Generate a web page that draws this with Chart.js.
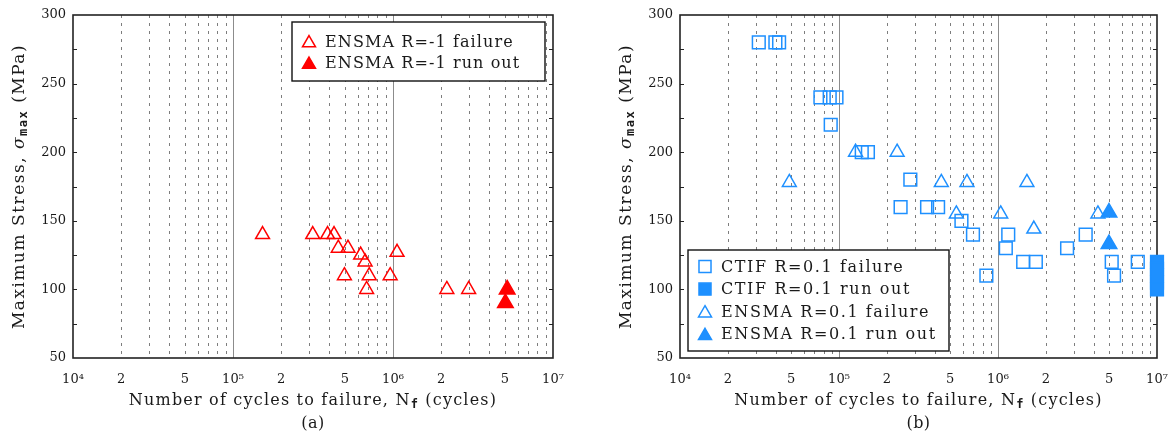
<!DOCTYPE html>
<html>
<head>
<meta charset="utf-8">
<script src="https://cdn.jsdelivr.net/npm/chart.js@4.4.1/dist/chart.umd.min.js"></script>
<style>
  body { margin:0; background:#fff; }
  .panel { position:absolute; top:0; width:585px; height:439px; }
</style>
</head>
<body>
<div class="panel" style="left:0"><canvas id="chartA" width="585" height="439"></canvas></div>
<div class="panel" style="left:585px"><canvas id="chartB" width="585" height="439"></canvas></div>
<script>
// ---- data (cycles to failure, max stress in MPa) ----
// (a) ENSMA R=-1
var ensmaM1FailCycles  = [1.53e5, 3.15e5, 3.9e5, 4.28e5, 4.55e5, 5.23e5, 6.28e5, 6.69e5, 1.06e6, 4.97e5, 7.1e5, 9.6e5, 6.84e5, 2.17e6, 2.97e6];
var ensmaM1FailStress  = [140, 140, 140, 140, 130, 130, 125, 120, 127, 110, 110, 110, 100, 100, 100];
var ensmaM1RunCycles   = [5.17e6, 5.04e6];
var ensmaM1RunStress   = [100, 90];

// (b) CTIF / ENSMA R=0.1
var ctifFailCycles  = [3.13e4, 3.98e4, 4.2e4, 7.64e4, 8.74e4, 9.64e4, 8.87e4, 1.39e5, 1.52e5, 2.81e5, 2.44e5, 3.58e5, 4.2e5,
                       5.89e5, 6.96e5, 1.16e6, 1.12e6, 1.44e6, 1.73e6, 8.45e5, 2.72e6, 3.56e6, 5.19e6, 5.37e6, 7.57e6];
var ctifFailStress  = [280, 280, 280, 240, 240, 240, 220, 200, 200, 180, 160, 160, 160,
                       150, 140, 140, 130, 120, 120, 110, 130, 140, 120, 110, 120];
var ctifRunCycles   = [1e7, 1e7, 1e7, 1e7, 1e7];
var ctifRunStress   = [120, 115, 110, 105, 100];
var ensma01FailCycles = [4.87e4, 1.27e5, 2.32e5, 4.4e5, 6.38e5, 1.52e6, 5.47e5, 1.04e6, 1.68e6, 4.25e6];
var ensma01FailStress = [178, 200, 200, 178, 178, 178, 155, 155, 144, 155];
var ensma01RunCycles  = [4.99e6, 4.99e6];
var ensma01RunStress  = [156, 133];

// ---- axes ----
var xDecades     = [1e4, 1e5, 1e6, 1e7];
var xLabelValues = [1e4, 2e4, 5e4, 1e5, 2e5, 5e5, 1e6, 2e6, 5e6, 1e7];
var xLabelTexts  = ['10\u2074', '2', '5', '10\u2075', '2', '5', '10\u2076', '2', '5', '10\u2077'];
var yTickValues  = [50, 100, 150, 200, 250, 300];

var RED = '#ff0000';
var BLUE = '#1e90ff';
var SERIF = "'DejaVu Serif', serif";
var MONO = "'DejaVu Sans Mono', monospace";
Chart.defaults.font.family = SERIF;
Chart.defaults.color = '#1a1a1a';

function pts(xs, ys) {
  return xs.map(function(x, i){ return {x: x, y: ys[i]}; });
}

function series(label, xs, ys, color, style, filled, r) {
  return {
    label: label,
    data: pts(xs, ys),
    pointStyle: style,
    pointRadius: r,
    pointHoverRadius: r,
    borderWidth: 1.5,
    pointBorderWidth: 1.5,
    borderColor: color,
    pointBorderColor: color,
    backgroundColor: filled ? color : 'rgba(0,0,0,0)',
    pointBackgroundColor: filled ? color : 'rgba(0,0,0,0)',
    showLine: false,
    clip: false
  };
}

function markerPath(ctx, style, x, y, r) {
  ctx.beginPath();
  if (style === 'rect') {
    var s = r * Math.SQRT1_2;
    ctx.rect(x - s, y - s, 2 * s, 2 * s);
  } else {
    var a = 0;
    ctx.moveTo(x + Math.sin(a) * r, y - Math.cos(a) * r);
    a += 2 * Math.PI / 3;
    ctx.lineTo(x + Math.sin(a) * r, y - Math.cos(a) * r);
    a += 2 * Math.PI / 3;
    ctx.lineTo(x + Math.sin(a) * r, y - Math.cos(a) * r);
    ctx.closePath();
  }
}

// pieces of text with their own font / baseline shift, centred on cx
function drawRich(ctx, parts, cx, baseY, spacing) {
  ctx.letterSpacing = spacing + 'px';
  var total = 0;
  parts.forEach(function(p){ ctx.font = p.font; p.w = ctx.measureText(p.t).width; total += p.w; });
  var x = cx - total / 2;
  ctx.textAlign = 'left';
  ctx.textBaseline = 'alphabetic';
  parts.forEach(function(p){
    ctx.font = p.font;
    ctx.fillText(p.t, x, baseY + (p.dy || 0));
    x += p.w;
  });
  ctx.letterSpacing = '0px';
}

var paperFrame = {
  id: 'paperFrame',
  // grid, frame and inner ticks, below the markers
  beforeDatasetsDraw: function(chart) {
    var ctx = chart.ctx, a = chart.chartArea, xs = chart.scales.x, ys = chart.scales.y;
    ctx.save();
    ctx.lineWidth = 1;
    ctx.strokeStyle = 'rgba(70,70,70,0.7)';
    ctx.setLineDash([3, 5]);
    xDecades.slice(0, 3).forEach(function(d){
      for (var m = 2; m <= 9; m++) {
        var px = Math.round(xs.getPixelForValue(d * m)) + 0.5;
        ctx.beginPath(); ctx.moveTo(px, a.top); ctx.lineTo(px, a.bottom); ctx.stroke();
      }
    });
    ctx.setLineDash([]);
    ctx.strokeStyle = '#8c8c8c';
    xDecades.slice(1, 3).forEach(function(d){
      var px = Math.round(xs.getPixelForValue(d)) + 0.5;
      ctx.beginPath(); ctx.moveTo(px, a.top); ctx.lineTo(px, a.bottom); ctx.stroke();
    });
    ctx.strokeStyle = '#222';
    for (var v = 75; v < 300; v += 25) {
      var py = Math.round(ys.getPixelForValue(v)) + 0.5;
      ctx.beginPath();
      ctx.moveTo(a.left, py); ctx.lineTo(a.left + 4, py);
      ctx.moveTo(a.right, py); ctx.lineTo(a.right - 4, py);
      ctx.stroke();
    }
    ctx.lineWidth = 1.6;
    ctx.strokeStyle = '#222';
    ctx.strokeRect(a.left, a.top, a.right - a.left, a.bottom - a.top);
    ctx.restore();
  },
  afterDatasetsDraw: function(chart, args, opts) {
    var ctx = chart.ctx, a = chart.chartArea;
    ctx.save();
    ctx.fillStyle = '#1a1a1a';
    // y title
    ctx.save();
    ctx.translate(a.left - 55, (a.top + a.bottom) / 2);
    ctx.rotate(-Math.PI / 2);
    drawRich(ctx, [
      {t: 'Maximum Stress, ', font: '17px ' + SERIF},
      {t: '\u03c3', font: 'italic 17px ' + SERIF},
      {t: 'max', font: 'bold 12px ' + MONO, dy: 3},
      {t: ' (MPa)', font: '17px ' + SERIF}
    ], 0, 6, 1.5);
    ctx.restore();
    // x title and caption
    var cx = (a.left + a.right) / 2;
    drawRich(ctx, [
      {t: 'Number of cycles to failure, N', font: '16px ' + SERIF},
      {t: 'f', font: 'bold 12px ' + MONO, dy: 3},
      {t: ' (cycles)', font: '16px ' + SERIF}
    ], cx, 405, 1.2);
    drawRich(ctx, [{t: opts.caption, font: '16px ' + SERIF}], cx, 428, 0.5);

    // legend box
    var L = opts.legend;
    ctx.fillStyle = '#fff';
    ctx.fillRect(L.x, L.y, L.w, L.h);
    ctx.lineWidth = 1.4;
    ctx.strokeStyle = '#111';
    ctx.strokeRect(L.x, L.y, L.w, L.h);
    chart.data.datasets.forEach(function(ds, i){
      var y = L.row0 + i * L.rowH;
      var mx = L.x + 17;
      var isRect = ds.pointStyle === 'rect';
      markerPath(ctx, ds.pointStyle, mx, isRect ? y : y + 1.5, isRect ? 8.5 : 7.5);
      ctx.lineWidth = 1.5;
      ctx.strokeStyle = ds.borderColor;
      if (ds.backgroundColor !== 'rgba(0,0,0,0)') { ctx.fillStyle = ds.backgroundColor; ctx.fill(); }
      ctx.stroke();
      ctx.fillStyle = '#1a1a1a';
      ctx.font = '16px ' + SERIF;
      ctx.letterSpacing = L.spacing + 'px';
      ctx.textAlign = 'left';
      ctx.textBaseline = 'middle';
      ctx.fillText(ds.label, L.x + 33, y + 1);
      ctx.letterSpacing = '0px';
    });
    ctx.restore();
  }
};

function makeChart(id, datasets, areaLeft, padRight, caption, legend) {
  return new Chart(document.getElementById(id), {
    type: 'scatter',
    data: { datasets: datasets },
    options: {
      responsive: false,
      animation: false,
      events: [],
      layout: { padding: { top: 15, right: padRight, left: 0, bottom: 0 } },
      plugins: {
        legend: { display: false },
        tooltip: { enabled: false },
        paperFrame: { caption: caption, legend: legend }
      },
      scales: {
        x: {
          type: 'logarithmic',
          min: 1e4, max: 1e7,
          grid: { display: false, drawTicks: false },
          border: { display: false },
          afterBuildTicks: function(axis) {
            axis.ticks = xLabelValues.map(function(v){ return {value: v}; });
          },
          afterFit: function(axis) {
            axis.height = 81;
            axis.paddingLeft = 0;
            axis.paddingRight = 0;
          },
          ticks: {
            autoSkip: false, maxRotation: 0, padding: 14,
            font: { size: 13 }, color: '#1a1a1a',
            callback: function(value, index) { return xLabelTexts[index]; }
          }
        },
        y: {
          min: 50, max: 300,
          grid: { display: false, drawTicks: false },
          border: { display: false },
          afterBuildTicks: function(axis) {
            axis.ticks = yTickValues.map(function(v){ return {value: v}; });
          },
          afterFit: function(axis) { axis.width = areaLeft; axis.paddingTop = 0; axis.paddingBottom = 0; },
          ticks: { padding: 7, font: { size: 13 }, color: '#1a1a1a' }
        }
      }
    },
    plugins: [paperFrame]
  });
}

makeChart('chartA', [
  series('ENSMA R=-1 failure', ensmaM1FailCycles, ensmaM1FailStress, RED, 'triangle', false, 8),
  series('ENSMA R=-1 run out', ensmaM1RunCycles, ensmaM1RunStress, RED, 'triangle', true, 9)
], 73, 32, '(a)', {x: 292, y: 22, w: 253, h: 59, row0: 41.5, rowH: 21.5, spacing: 1.1});

makeChart('chartB', [
  series('CTIF R=0.1 failure', ctifFailCycles, ctifFailStress, BLUE, 'rect', false, 9),
  series('CTIF R=0.1 run out', ctifRunCycles, ctifRunStress, BLUE, 'rect', true, 9),
  series('ENSMA R=0.1 failure', ensma01FailCycles, ensma01FailStress, BLUE, 'triangle', false, 8),
  series('ENSMA R=0.1 run out', ensma01RunCycles, ensma01RunStress, BLUE, 'triangle', true, 9)
], 95, 13, '(b)', {x: 103, y: 250, w: 261, h: 101, row0: 266.5, rowH: 22.6, spacing: 1.6});
</script>
</body>
</html>
